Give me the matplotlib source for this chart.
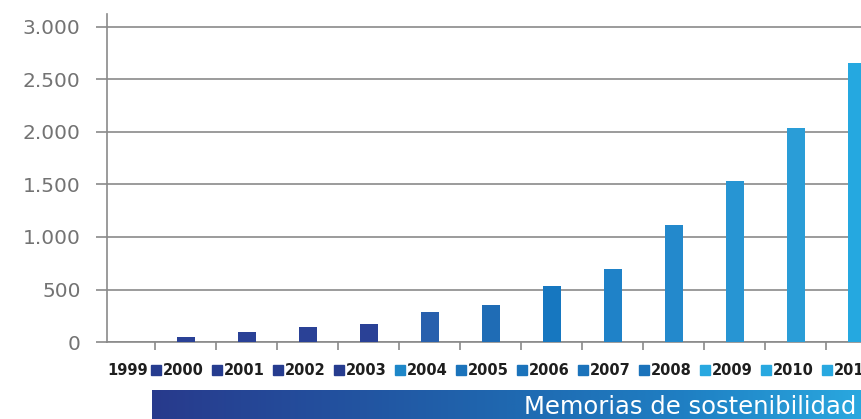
import matplotlib
matplotlib.use("Agg")
import matplotlib.pyplot as plt
import matplotlib.transforms as mtransforms
from matplotlib.colors import LinearSegmentedColormap
from matplotlib.ticker import FuncFormatter
import numpy as np

# data
years = ['1999', '2000', '2001', '2002', '2003', '2004', '2005',
         '2006', '2007', '2008', '2009', '2010', '2011']
reports = [0, 45, 100, 145, 173, 282, 355, 529, 692, 1111, 1538, 2037, 2660]
bar_colors = ['#2a4196', '#2a4196', '#2a4196', '#2a4196', '#2a4196', '#2860ad',
              '#1f6cb5', '#1677c0', '#1f82c8', '#2389cc', '#2795d3', '#2a9dd7', '#25a8e0']
key_colors = ['#ffffff', '#263c8f', '#263c8f', '#263c8f', '#263c8f', '#1e87c8',
              '#1b73bb', '#1b73bb', '#1b73bb', '#1b73bb', '#28a8e0', '#28a8e0', '#28a8e0']
banner_text = "Memorias de sostenibilidad"

W, H = 862, 419
fig = plt.figure(figsize=(W / 100, H / 100), dpi=100)
ax = fig.add_axes([107 / W, (H - 342) / H, 1 - 107 / W, (342 - 14) / H])

x = np.arange(len(years))
ax.bar(x, reports, width=0.31, color=bar_colors, zorder=3)

gray = '#8a8a8a'
ax.set_xlim((107 - 125) / 61, (W - 125) / 61)
ax.set_ylim(0, 3000 + 13 / 0.105)
ax.set_yticks([0, 500, 1000, 1500, 2000, 2500, 3000])
ax.yaxis.set_major_formatter(FuncFormatter(lambda v, p: f"{int(v):,}".replace(",", ".")))
ax.yaxis.grid(True, color=gray, linewidth=1.2, zorder=0)
ax.tick_params(axis='y', length=8, width=1.2, color=gray, pad=11,
               labelsize=14.5, labelcolor='#737373')
ax.set_xticks(x[:-1] + 0.5)
ax.set_xticklabels([])
ax.tick_params(axis='x', length=6, width=1.2, color=gray)
for s in ['top', 'right']:
    ax.spines[s].set_visible(False)
ax.spines['left'].set_color(gray)
ax.spines['left'].set_linewidth(1.2)
ax.spines['bottom'].set_color(gray)
ax.spines['bottom'].set_linewidth(1.2)

# year labels with coloured squares under the axis
trans = mtransforms.blended_transform_factory(ax.transData, ax.transAxes)
ly = -(370 - 342) / 328
for i, yr in enumerate(years):
    if i == 0:
        ax.text((107 - 125) / 61, ly, yr, transform=trans, ha='left', va='center',
                fontsize=10.5, fontweight='bold', color='#1e1e1e', clip_on=False)
        continue
    ax.plot([i - 0.5 + 0.01], [ly], marker='s', markersize=7.8, color=key_colors[i],
            transform=trans, clip_on=False, linestyle='none')
    ax.text(i - 0.385, ly, yr, transform=trans, ha='left', va='center',
            fontsize=10.5, fontweight='bold', color='#1e1e1e', clip_on=False)

# gradient banner at the bottom
bx = fig.add_axes([152 / W, 0, 1 - 152 / W, 29 / H])
cmap = LinearSegmentedColormap.from_list(
    'banner', ['#283a8c', '#23509e', '#1f68b0', '#1f7fc3', '#2aa8df'])
bx.imshow(np.linspace(0, 1, 256).reshape(1, -1), cmap=cmap, aspect='auto',
          extent=[0, 1, 0, 1])
bx.set_axis_off()
bx.text(0.992, 0.42, banner_text, transform=bx.transAxes, ha='right', va='center',
        fontsize=17.5, color='white')

fig.savefig('out.png', dpi=100)
